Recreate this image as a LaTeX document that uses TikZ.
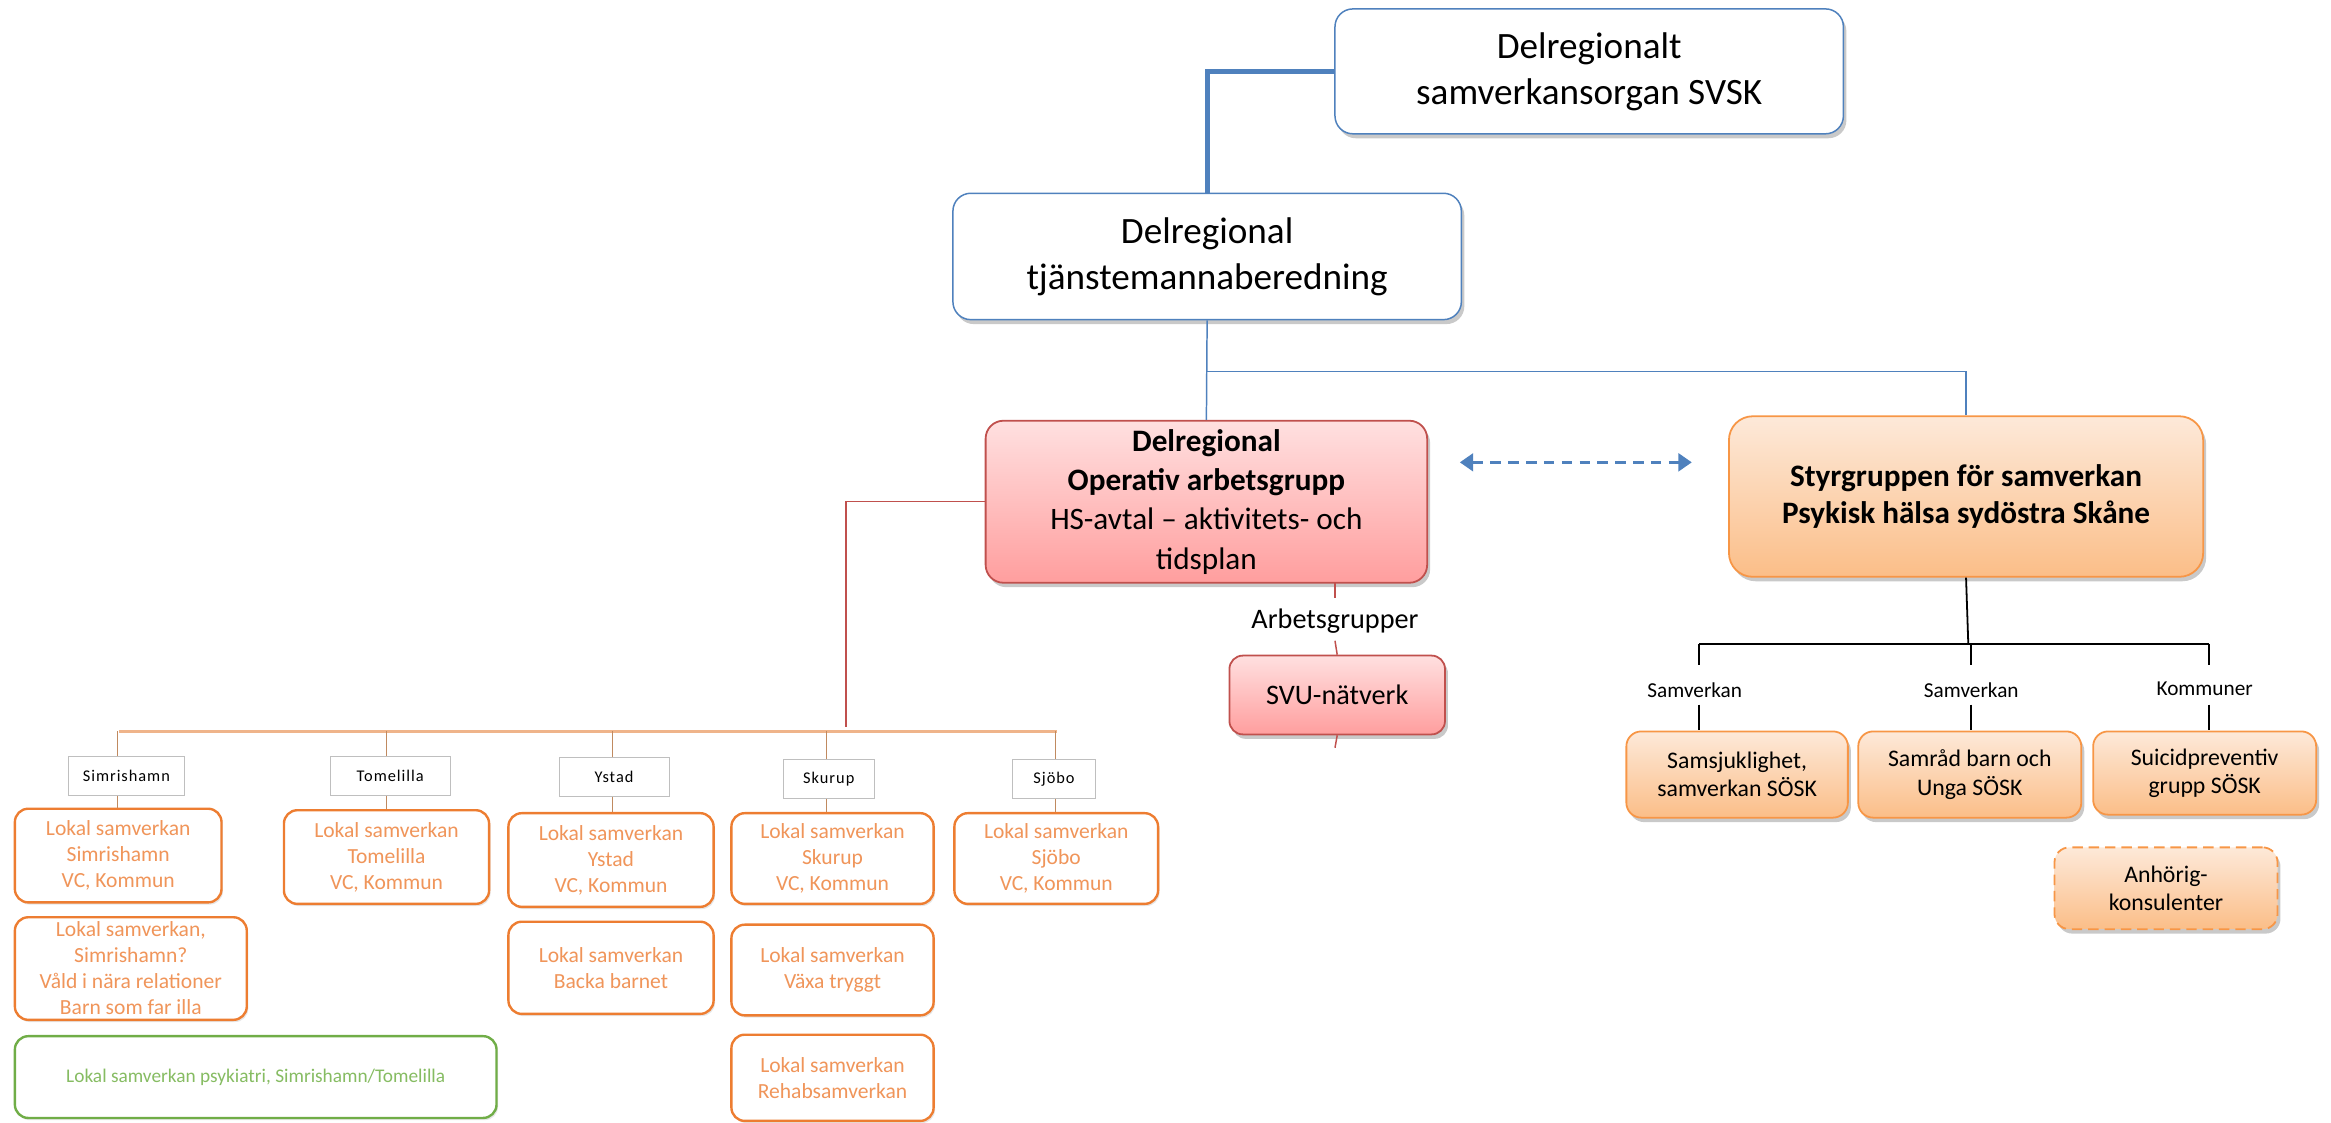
\documentclass[tikz,border=0pt]{standalone}
\usepackage{fontspec}
\setmainfont{Carlito}
\newfontfamily\labfont[LetterSpace=6]{Carlito}
\usetikzlibrary{shadows,arrows.meta}
\definecolor{bblue}{HTML}{4F81BD}
\definecolor{rborder}{HTML}{C0504D}
\definecolor{rtop}{HTML}{FFE0E0}
\definecolor{rbot}{HTML}{FF9E9E}
\definecolor{oborder}{HTML}{F79646}
\definecolor{otop}{HTML}{FDE9D9}
\definecolor{obot}{HTML}{FBBE88}
\definecolor{lborder}{HTML}{ED7D31}
\definecolor{ltext}{HTML}{F0955A}
\definecolor{oline}{HTML}{EFB48A}
\definecolor{otick}{HTML}{C08A60}
\definecolor{gborder}{HTML}{70AD47}
\definecolor{gtext}{HTML}{86BC62}
\newcommand\myfs[2]{\fontsize{#1}{#2}\selectfont}
\tikzset{
  shad/.style={drop shadow={shadow xshift=2pt, shadow yshift=-3pt, opacity=0.3, fill=black!70}},
  topbox/.style={draw=bblue, line width=1pt, fill=white, rounded corners=12pt, align=center, inner sep=0pt, shad},
  redbox/.style={draw=rborder, line width=1.2pt, top color=rtop, bottom color=rbot, rounded corners=12pt, align=center, inner sep=0pt, shad},
  orbox/.style={draw=oborder, line width=1.2pt, top color=otop, bottom color=obot, rounded corners=10pt, align=center, inner sep=0pt, shad},
  lokbox/.style={draw=lborder, line width=1.6pt, fill=white, rounded corners=9pt, align=center, inner sep=0pt, text=ltext, font=\myfs{14.5}{17.5}, drop shadow={shadow xshift=1pt, shadow yshift=-1.5pt, opacity=0.2}},
  labbox/.style={draw=black!25, line width=0.6pt, fill=white, inner sep=0pt, minimum height=26pt, font=\labfont\myfs{11}{12}},
  smlab/.style={inner sep=0pt, font=\myfs{14.3}{16}},
  bline/.style={draw=bblue, line width=1pt},
  rline/.style={draw=rborder, line width=1pt},
  kline/.style={draw=black, line width=1.2pt},
  tline/.style={draw=otick, line width=0.8pt}
}
\begin{document}
\begin{tikzpicture}[x=1pt,y=-1pt]
\useasboundingbox (0,0) rectangle (1568,755);
% top boxes
\node[topbox, font=\myfs{25}{31}, minimum width=342pt, minimum height=84pt] (svsk) at (1069,48) {Delregionalt\\samverkansorgan SVSK};
\node[topbox, font=\myfs{25}{31}, minimum width=342pt, minimum height=85pt] (tjm) at (812,172.5) {Delregional\\tjänstemannaberedning};
\draw[draw=bblue, line width=3.4pt] (svsk.west) -| (tjm.north);
% middle boxes
\node[redbox, font=\myfs{21}{26.5}, minimum width=297pt, minimum height=109pt] (oper) at (811.5,337.5) {\textbf{Delregional}\\\textbf{Operativ arbetsgrupp}\\HS-avtal – aktivitets- och\\tidsplan};
\node[orbox, font=\myfs{21}{25.5}, rounded corners=16pt, minimum width=319pt, minimum height=108pt] (styr) at (1322.5,334) {\textbf{Styrgruppen för samverkan}\\\textbf{Psykisk hälsa sydöstra Skåne}};
\coordinate (bj) at (812,250);
\draw[bline] (tjm.south) -- (oper.north);
\draw[bline] (bj) -| (styr.north);
% dashed arrow
\coordinate (da1) at (982,311);
\coordinate (da2) at (1138,311);
\draw[bblue, line width=1.8pt, dash pattern=on 7pt off 5pt, {Triangle[width=12pt,length=9pt]}-{Triangle[width=12pt,length=9pt]}] (da1) -- (da2);
% arbetsgrupper
\node[inner sep=0pt, font=\myfs{19}{21}] (arb) at (898,418) {Arbetsgrupper};
\node[redbox, font=\myfs{19}{22}, rounded corners=9pt, minimum width=145pt, minimum height=53pt] (svu) at (899.5,467.5) {SVU-nätverk};
\coordinate (t1) at (898,392);
\coordinate (t2) at (898,402);
\coordinate (t3) at (898,431);
\coordinate (t4) at (898,503);
\draw[rline] (t1) -- (t2);
\draw[rline] (t3) -- (svu.north);
\draw[rline] (svu.south) -- (t4);
% right subtree
\node[orbox, font=\myfs{16}{19}, minimum width=149pt, minimum height=58pt] (sams) at (1168.5,521) {Samsjuklighet,\\samverkan SÖSK};
\node[orbox, font=\myfs{16}{19}, minimum width=150pt, minimum height=58pt] (samr) at (1325,521) {Samråd barn och\\Unga SÖSK};
\node[orbox, font=\myfs{16}{19}, minimum width=150pt, minimum height=56pt] (suic) at (1483,520) {Suicidpreventiv\\grupp SÖSK};
\node[orbox, font=\myfs{16}{19}, dash pattern=on 7pt off 4pt, minimum width=150pt, minimum height=55pt] (anh) at (1457,597.5) {Anhörig-\\konsulenter};
\node[smlab] (sv1) at (1140,464) {Samverkan};
\node[smlab] (sv2) at (1326,464) {Samverkan};
\node[smlab] (kom) at (1483,463) {Kommuner};
\coordinate (hA) at (1143,433);
\coordinate (hB) at (1324,433);
\coordinate (hC) at (1486,433);
\draw[kline] (styr.south) -- (hB);
\draw[kline] (hA) -- (hC);
\foreach \x/\n in {1143/a,1326/b,1486/c}{
  \coordinate (u\n) at (\x,433);
  \coordinate (v\n) at (\x,447);
  \coordinate (w\n) at (\x,474);
  \coordinate (z\n) at (\x,491);
  \draw[kline] (u\n) -- (v\n);
  \draw[kline] (w\n) -- (z\n);
}
% left subtree
\coordinate (rl) at (569,489);
\draw[rline] (oper.west) -| (rl);
\coordinate (oh1) at (80,492);
\coordinate (oh2) at (711,492);
\draw[oline, line width=2pt] (oh1) -- (oh2);
\node[labbox, minimum width=78pt] (lsim) at (85,522) {Simrishamn};
\node[labbox, minimum width=81pt] (ltom) at (262.5,522) {Tomelilla};
\node[labbox, minimum width=74pt] (lyst) at (413,522.5) {Ystad};
\node[labbox, minimum width=61pt] (lsku) at (557.5,524) {Skurup};
\node[labbox, minimum width=56pt] (lsjo) at (709,524) {Sjöbo};
\node[lokbox, minimum width=139pt, minimum height=63pt] (ls1) at (79.5,575.5) {Lokal samverkan\\Simrishamn\\VC, Kommun};
\node[lokbox, minimum width=156pt, minimum height=69pt] (ls2) at (88,651.5) {Lokal samverkan,\\Simrishamn?\\Våld i nära relationer\\Barn som far illa};
\node[lokbox, draw=gborder, text=gtext, font=\myfs{13}{15}, minimum width=324pt, minimum height=55pt] (gr) at (172,724.5) {Lokal samverkan psykiatri, Simrishamn/Tomelilla};
\node[lokbox, minimum width=138pt, minimum height=63pt] (lt) at (260,576.5) {Lokal samverkan\\Tomelilla\\VC, Kommun};
\node[lokbox, minimum width=138pt, minimum height=63pt] (ly) at (411,578.5) {Lokal samverkan\\Ystad\\VC, Kommun};
\node[lokbox, minimum width=138pt, minimum height=62pt] (lyb) at (411,651) {Lokal samverkan\\Backa barnet};
\node[lokbox, minimum width=136pt, minimum height=61pt] (lsk) at (560,577.5) {Lokal samverkan\\Skurup\\VC, Kommun};
\node[lokbox, minimum width=136pt, minimum height=61pt] (lsk2) at (560,652.5) {Lokal samverkan\\Växa tryggt};
\node[lokbox, minimum width=136pt, minimum height=58pt] (lsk3) at (560,725) {Lokal samverkan\\Rehabsamverkan};
\node[lokbox, minimum width=137pt, minimum height=61pt] (lsj) at (710.5,577.5) {Lokal samverkan\\Sjöbo\\VC, Kommun};
\foreach \x/\lab/\lok in {79/lsim/ls1,260/ltom/lt,412/lyst/ly,556/lsku/lsk,710/lsjo/lsj}{
  \coordinate (a\lab) at (\x,492);
  \draw[tline] (a\lab) -- (a\lab |- \lab.north);
  \draw[tline] (a\lab |- \lab.south) -- (a\lab |- \lok.north);
}
\end{tikzpicture}
\end{document}
